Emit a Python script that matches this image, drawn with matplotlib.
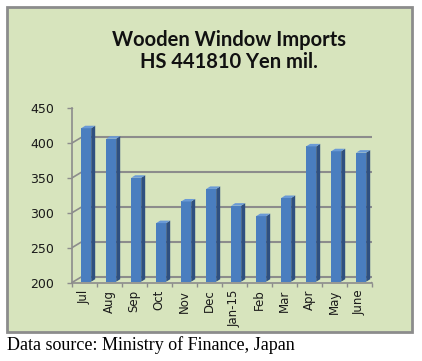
import numpy as np
import matplotlib.pyplot as plt
from matplotlib.patches import Rectangle, Polygon
from matplotlib.transforms import ScaledTranslation, IdentityTransform

# data (Yen mil.)
months = ['Jul', 'Aug', 'Sep', 'Oct', 'Nov', 'Dec', 'Jan-15', 'Feb', 'Mar',
          'Apr', 'May', 'June']
imports = [420, 405, 349, 284, 315, 333, 309, 294, 320, 394, 387, 385]
yticks = [200, 250, 300, 350, 400, 450]

W, H = 422, 361
fig = plt.figure(figsize=(W / 100, H / 100), dpi=100)
fig.patch.set_facecolor('white')


def fx(px):
    return px / W


def fy(py):
    return 1 - py / H


# green chart area with grey frame
box = Rectangle((fx(7), fy(332)), fx(412) - fx(7), fy(7) - fy(332),
                transform=fig.transFigure, facecolor='#d7e4bd',
                edgecolor='#8c8c8c', lw=2, zorder=-10)
fig.patches.append(box)

ax = fig.add_axes([fx(71.7), fy(282.7), 300 / W, 174.4 / H])
ax.set_xlim(-0.5, 11.5)
ax.set_ylim(200, 450)
ax.patch.set_visible(False)
for s in ['top', 'right']:
    ax.spines[s].set_visible(False)
for s in ['left', 'bottom']:
    ax.spines[s].set_color('#8c8c8c')
    ax.spines[s].set_linewidth(1.2)

grid_c = '#8c8c8c'
# offsets in pixels (dpi 100 -> /100 inch)
back = ScaledTranslation(10 / 100, 6 / 100, fig.dpi_scale_trans)
bar_off = ScaledTranslation(2 / 100, 1 / 100, fig.dpi_scale_trans)
depth = np.array([4.0, 2.5])

# back wall gridlines and the little diagonals to the front axis
ax.hlines(yticks, -0.5, 11.5, color=grid_c, lw=1.5,
          transform=ax.transData + back, zorder=1)
for y in yticks:
    p0 = ax.transData.transform((-0.5, y))
    p1 = p0 + np.array([10, 6])
    ax.add_line(plt.Line2D([p0[0], p1[0]], [p0[1], p1[1]], color=grid_c,
                           lw=1.2, transform=IdentityTransform()))
# floor
ax.hlines([200], -0.5, 11.5, color=grid_c, lw=1.2,
          transform=ax.transData + back, zorder=1)
p0 = ax.transData.transform((11.5, 200))
ax.add_line(plt.Line2D([p0[0], p0[0] + 10], [p0[1], p0[1] + 6], color=grid_c,
                       lw=1.2, transform=IdentityTransform()))

# 3D-looking columns
x = np.arange(len(months))
w = 0.4
ax.bar(x, np.array(imports) - 200, bottom=200, width=w, color='#4a7ebf',
       transform=ax.transData + bar_off, zorder=3)
for xi, v in zip(x, imports):
    bl = ax.transData.transform((xi - w / 2, v)) + np.array([2, 1])
    br = ax.transData.transform((xi + w / 2, v)) + np.array([2, 1])
    bb = ax.transData.transform((xi + w / 2, 200)) + np.array([2, 1])
    side = Polygon([bb, br, br + depth, bb + depth], closed=True,
                   facecolor='#2f5080', edgecolor='none',
                   transform=IdentityTransform(), zorder=3)
    top = Polygon([bl, br, br + depth, bl + depth], closed=True,
                  facecolor='#6a9ad6', edgecolor='none',
                  transform=IdentityTransform(), zorder=3)
    ax.add_patch(side)
    ax.add_patch(top)

# ticks
ax.set_yticks(yticks)
ax.set_yticklabels([str(t) for t in yticks], fontsize=9, color='#1a1a1a')
ax.tick_params(axis='y', direction='out', length=3.5, width=1, color=grid_c,
               pad=9)
ax.set_xticks(np.arange(-0.5, 12, 1))
ax.set_xticklabels([])
ax.tick_params(axis='x', which='major', direction='out', length=3,
               width=1, color=grid_c)
ax.set_xticks(x, minor=True)
ax.set_xticklabels(months, minor=True, rotation=90, fontsize=8.5,
                   color='#1a1a1a')
ax.tick_params(axis='x', which='minor', length=0, pad=5)

fig.text(fx(229), fy(40), 'Wooden Window Imports', ha='center', va='center',
         fontsize=14.5, fontweight='bold', family='Lato', color='#111111')
fig.text(fx(229), fy(62), 'HS 441810 Yen mil.', ha='center', va='center',
         fontsize=14.5, fontweight='bold', family='Lato', color='#111111')
fig.text(fx(7), fy(345), 'Data source: Ministry of Finance, Japan',
         ha='left', va='center', family='Liberation Serif', fontsize=13,
         color='black')

fig.savefig('out.png', dpi=100)
